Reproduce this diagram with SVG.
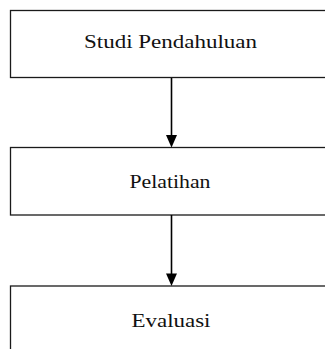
<svg xmlns="http://www.w3.org/2000/svg" width="325" height="349" viewBox="0 0 325 349">
<style>
.box{fill:#ffffff;stroke:#1a1a1a;stroke-width:1.3}
.lbl{font-family:"Liberation Serif","Times New Roman",serif;font-size:19px;fill:#111;text-anchor:middle}
.conn{stroke:#000;stroke-width:1.6;fill:none}
.head{fill:#000}
</style>
<rect width="325" height="349" fill="#ffffff"/>
<g id="node-studi">
<rect class="box" x="10.5" y="10.5" width="330" height="67"/>
<text class="lbl" x="170.5" y="48" textLength="173" lengthAdjust="spacingAndGlyphs">Studi Pendahuluan</text>
</g>
<g id="node-pelatihan">
<rect class="box" x="10.5" y="147.5" width="330" height="67.5"/>
<text class="lbl" x="170" y="187.5" textLength="81" lengthAdjust="spacingAndGlyphs">Pelatihan</text>
</g>
<g id="node-evaluasi">
<rect class="box" x="10.5" y="286" width="330" height="80"/>
<text class="lbl" x="171" y="326.5" textLength="79" lengthAdjust="spacingAndGlyphs">Evaluasi</text>
</g>
<g id="connectors">
<line class="conn" x1="171.5" y1="78" x2="171.5" y2="137"/>
<polygon class="head" points="166,135 177,135 171.5,147.5"/>
<line class="conn" x1="171.5" y1="215" x2="171.5" y2="275"/>
<polygon class="head" points="166,273.5 177,273.5 171.5,286"/>
</g>
</svg>
